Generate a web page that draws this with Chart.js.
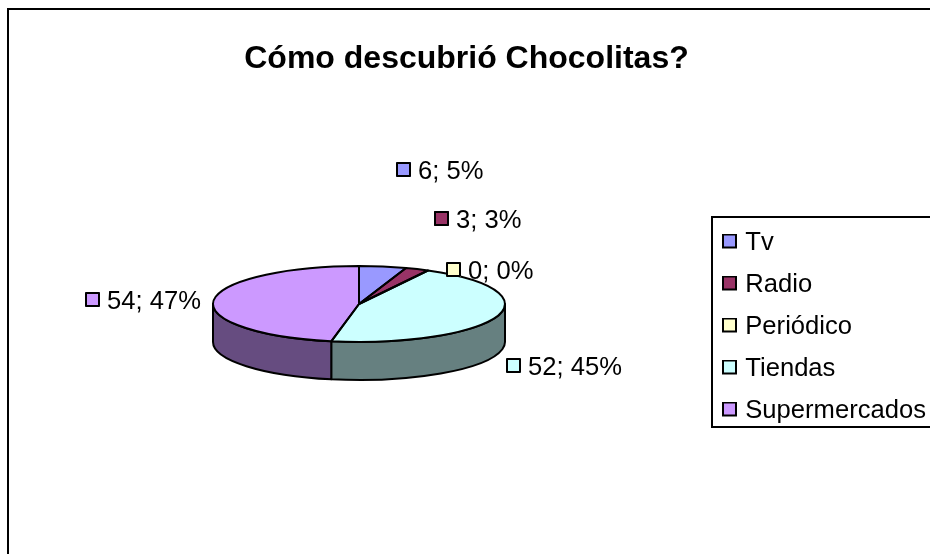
<!DOCTYPE html>
<html><head><meta charset="utf-8">
<style>html,body{margin:0;padding:0;background:#fff}canvas{display:block}</style>
<script src="https://cdn.jsdelivr.net/npm/chart.js@4"></script></head>
<body><canvas id="c" width="930" height="554"></canvas>
<script>
const categories = ["Tv","Radio","Periódico","Tiendas","Supermercados"];
const values = [6,3,0,52,54];
const topColors = ["#9999FF","#993366","#FFFFCC","#CCFFFF","#CC99FF"];
const wallColors = ["#4C4C80","#4C1A33","#808066","#668080","#664C80"];
const titleText = "Cómo descubrió Chocolitas?";
const FONT = '"Liberation Sans", Arial, sans-serif';

const pie = {cx:359, cy:304, rx:146, ry:38, depth:38};
const labelBoxes = [[396,162],[434,211],[446,262],[506,358],[85,292]];

function swatch(color, size){
  const s=document.createElement('canvas'); s.width=size; s.height=size+4;
  const g=s.getContext('2d'); g.fillStyle=color; g.fillRect(0,0,size,size);
  g.strokeStyle='#000'; g.lineWidth=2; g.strokeRect(1,1,size-2,size-2);
  return s;
}
const pie3d = {
  id:'pie3d',
  beforeDraw(chart){
    const ctx=chart.ctx;
    ctx.save();
    ctx.fillStyle='#fff'; ctx.fillRect(0,0,930,554);
    ctx.strokeStyle='#000'; ctx.lineWidth=2;
    ctx.beginPath(); ctx.moveTo(8,554); ctx.lineTo(8,9); ctx.lineTo(930,9); ctx.stroke();
    ctx.strokeRect(712,217,240,210);
    ctx.restore();
    chart.legend.left=710.1; chart.legend.top=213.8;
    chart.titleBlock.left=3; chart.titleBlock.right=930;
  },
  beforeDatasetsDraw(chart){
    const ctx=chart.ctx, arcs=chart.getDatasetMeta(0).data, a0=arcs[0];
    const {cx,cy,rx,ry,depth}=pie;
    ctx.save(); ctx.lineWidth=2; ctx.strokeStyle='#000'; ctx.lineJoin='round';
    arcs.forEach((a,i)=>{
      const s=Math.max(a.startAngle,0), e=Math.min(a.endAngle,Math.PI);
      if(e<=s) return;
      ctx.beginPath();
      ctx.ellipse(cx,cy,rx,ry,0,s,e);
      ctx.lineTo(cx+rx*Math.cos(e),cy+ry*Math.sin(e)+depth);
      ctx.ellipse(cx,cy+depth,rx,ry,0,e,s,true);
      ctx.closePath();
      ctx.fillStyle=wallColors[i]; ctx.fill(); ctx.stroke();
    });
    ctx.restore();
    ctx.save();
    const k=1/a0.outerRadius;
    ctx.translate(cx,cy); ctx.scale(rx*k,ry*k); ctx.translate(-a0.x,-a0.y);
  },
  afterDatasetsDraw(chart){
    const ctx=chart.ctx, arcs=chart.getDatasetMeta(0).data;
    ctx.restore();
    const {cx,cy,rx,ry}=pie;
    ctx.save(); ctx.lineWidth=2; ctx.strokeStyle='#000'; ctx.lineJoin='round';
    arcs.forEach(a=>{
      if(a.endAngle-a.startAngle<=0) return;
      ctx.beginPath(); ctx.moveTo(cx,cy);
      ctx.ellipse(cx,cy,rx,ry,0,a.startAngle,a.endAngle);
      ctx.closePath(); ctx.stroke();
    });
    const total=values.reduce((p,v)=>p+v,0);
    ctx.font='25.6px '+FONT; ctx.textBaseline='middle'; ctx.textAlign='left';
    values.forEach((v,i)=>{
      const [x,y]=labelBoxes[i];
      ctx.fillStyle=topColors[i]; ctx.fillRect(x,y,15,15);
      ctx.strokeRect(x+1,y+1,13,13);
      ctx.fillStyle='#000';
      ctx.fillText(v+'; '+Math.round(v/total*100)+'%',x+22,y+10);
    });
    ctx.restore();
  }
};
new Chart(document.getElementById('c'),{
  type:'pie',
  data:{labels:categories,datasets:[{data:values,backgroundColor:topColors,borderWidth:0}]},
  options:{
    responsive:false,animation:false,
    plugins:{
      title:{display:true,text:titleText,color:'#000',padding:{top:40,bottom:10},
        font:{family:FONT,size:32,weight:'bold'}},
      legend:{display:true,position:'right',align:'start',
        labels:{color:'#000',padding:16.4,boxWidth:15,boxHeight:15,usePointStyle:true,pointStyleWidth:6,
          font:{family:FONT,size:25.6,lineHeight:1},
          generateLabels(){return categories.map((t,i)=>({text:t,pointStyle:swatch(topColors[i],15),index:i,hidden:false}));}}},
      tooltip:{enabled:false}
    }
  },
  plugins:[pie3d]
});
</script></body></html>
